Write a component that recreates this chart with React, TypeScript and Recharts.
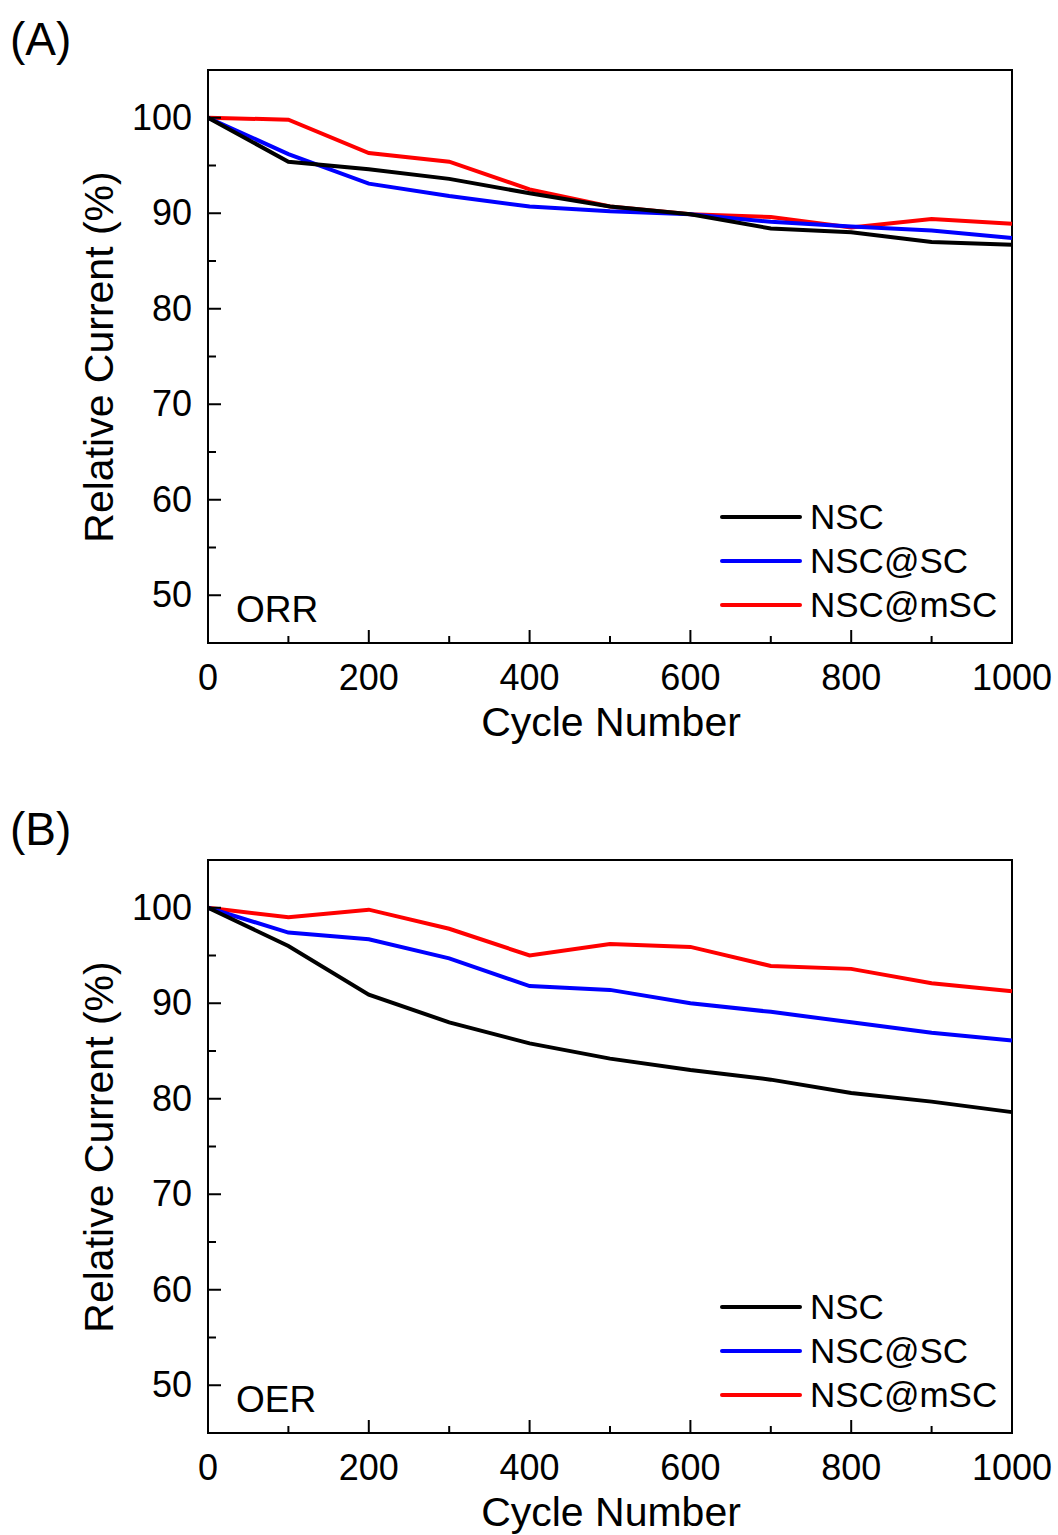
import React from 'react';
import { LineChart, Line, XAxis, YAxis, Legend, ReferenceArea } from 'recharts';

// cycle numbers shared by both panels
const cycles = [0, 100, 200, 300, 400, 500, 600, 700, 800, 900, 1000];

// (A) ORR relative current (%)
const orrNSC = [100, 95.4, 94.6, 93.6, 92.1, 90.7, 89.9, 88.4, 88.0, 87.0, 86.7];
const orrNSCSC = [100, 96.2, 93.1, 91.8, 90.7, 90.2, 89.9, 89.1, 88.6, 88.2, 87.4];
const orrNSCmSC = [100, 99.8, 96.3, 95.4, 92.5, 90.7, 89.9, 89.6, 88.5, 89.4, 88.9];

// (B) OER relative current (%)
const oerNSC = [100, 96.0, 90.9, 88.0, 85.8, 84.2, 83.0, 82.0, 80.6, 79.7, 78.6];
const oerNSCSC = [100, 97.4, 96.7, 94.7, 91.8, 91.4, 90.0, 89.1, 88.0, 86.9, 86.1];
const oerNSCmSC = [100, 99.0, 99.8, 97.8, 95.0, 96.2, 95.9, 93.9, 93.6, 92.1, 91.25];

const seriesNames = ['NSC', 'NSC@SC', 'NSC@mSC'];
const seriesColors = ['#000000', '#0000ff', '#ff0000'];

const yTicks = [50, 55, 60, 65, 70, 75, 80, 85, 90, 95, 100];
const xTicks = [0, 100, 200, 300, 400, 500, 600, 700, 800, 900, 1000];

const FONT = '"Liberation Sans", Arial, Helvetica, sans-serif';

const YTick = (props: any) => {
  const { x, y, payload } = props;
  const v = payload.value;
  const major = v % 10 === 0;
  return (
    <g>
      <line x1={x} x2={x + (major ? 13 : 8)} y1={y} y2={y} stroke="#000" strokeWidth={2} />
      {major && (
        <text x={x - 16} y={y} dy="0.34em" textAnchor="end" fontSize={36} fill="#000">
          {v}
        </text>
      )}
    </g>
  );
};

const XTick = (props: any) => {
  const { x, y, payload } = props;
  const v = payload.value;
  const major = v % 200 === 0;
  return (
    <g>
      <line x1={x} x2={x} y1={y} y2={y - (major ? 13 : 7)} stroke="#000" strokeWidth={2} />
      {major && (
        <text x={x} y={y + 47} textAnchor="middle" fontSize={36} fill="#000">
          {v}
        </text>
      )}
    </g>
  );
};

const LegendBox = (props: any) => {
  const payload = [...(props.payload || [])].sort(
    (a: any, b: any) => seriesNames.indexOf(a.value) - seriesNames.indexOf(b.value)
  );
  return (
    <div>
      {payload.map((p: any) => (
        <div key={p.value} style={{ display: 'flex', alignItems: 'center', height: 44 }}>
          <svg width={90} height={44}>
            <line x1={2} x2={80} y1={22} y2={22} stroke={p.color} strokeWidth={4} strokeLinecap="round" />
          </svg>
          <span style={{ fontSize: 35, color: '#000', lineHeight: '44px' }}>{p.value}</span>
        </div>
      ))}
    </div>
  );
};

function Panel({ top, tag, name, series }: { top: number; tag: string; name: string; series: number[][] }) {
  const data = cycles.map((c, i) => ({
    cycle: c,
    s0: series[0][i],
    s1: series[1][i],
    s2: series[2][i],
  }));
  // draw red first, black last so black sits on top
  const order = [2, 1, 0];
  return (
    <div style={{ position: 'absolute', left: 0, top, width: 1058, height: 745 }}>
      <LineChart width={1058} height={745} data={data} margin={{ top: 70, right: 46, bottom: 0, left: 0 }}>
        <XAxis
          dataKey="cycle"
          type="number"
          domain={[0, 1000]}
          ticks={xTicks}
          interval={0}
          height={102}
          tickSize={0}
          tickMargin={0}
          tickLine={false}
          axisLine={{ stroke: '#000', strokeWidth: 2 }}
          tick={<XTick />}
        />
        <YAxis
          type="number"
          domain={[45, 105]}
          ticks={yTicks}
          interval={0}
          width={208}
          tickSize={0}
          tickMargin={0}
          tickLine={false}
          axisLine={{ stroke: '#000', strokeWidth: 2 }}
          tick={<YTick />}
        />
        <ReferenceArea x1={0} x2={1000} y1={45} y2={105} fill="none" stroke="#000" strokeWidth={2} ifOverflow="visible" />
        {order.map((k) => (
          <Line
            key={k}
            type="linear"
            dataKey={`s${k}`}
            name={seriesNames[k]}
            stroke={seriesColors[k]}
            strokeWidth={4}
            dot={false}
            activeDot={false}
            isAnimationActive={false}
          />
        ))}
        <Legend
          layout="horizontal"
          verticalAlign="middle"
          align="center"
          wrapperStyle={{ left: 720, top: 495, width: 320, height: 132 }}
          content={<LegendBox />}
        />
      </LineChart>
      <svg
        width={1058}
        height={745}
        style={{ position: 'absolute', left: 0, top: 0, pointerEvents: 'none' }}
      >
        <text x={10} y={55} fontSize={46} fill="#000">{tag}</text>
        <text x={236} y={622} fontSize={37} fill="#000">{name}</text>
        <text x={611} y={736} fontSize={41} textAnchor="middle" fill="#000">Cycle Number</text>
        <text
          x={113}
          y={357}
          fontSize={41}
          textAnchor="middle"
          fill="#000"
          transform="rotate(-90 113 357)"
        >
          Relative Current (%)
        </text>
      </svg>
    </div>
  );
}

export default function App() {
  return (
    <div
      style={{
        position: 'absolute',
        left: 0,
        top: 0,
        width: 1058,
        height: 1535,
        background: '#fff',
        fontFamily: FONT,
        overflow: 'hidden',
      }}
    >
      <Panel top={0} tag="(A)" name="ORR" series={[orrNSC, orrNSCSC, orrNSCmSC]} />
      <Panel top={790} tag="(B)" name="OER" series={[oerNSC, oerNSCSC, oerNSCmSC]} />
    </div>
  );
}
